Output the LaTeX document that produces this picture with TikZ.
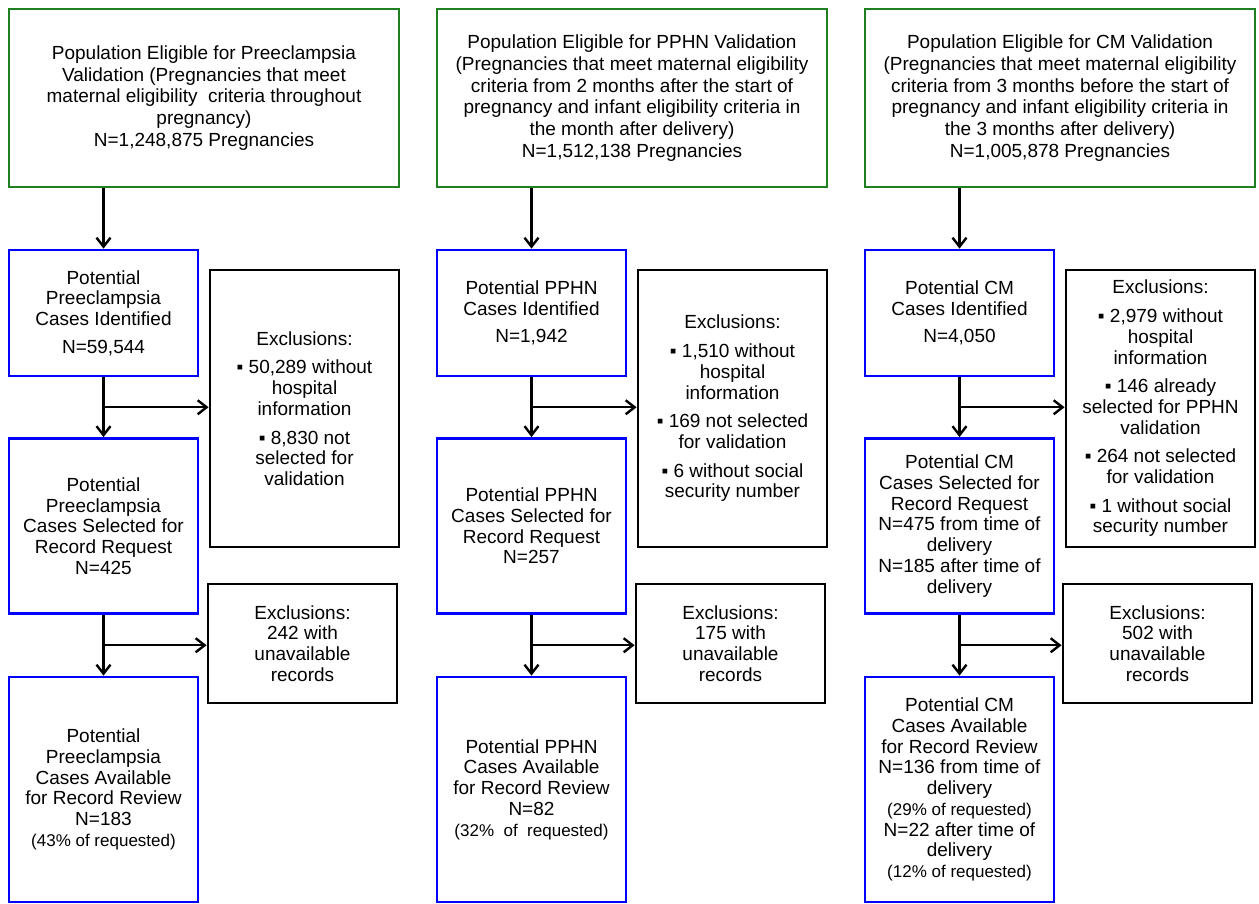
\documentclass[tikz,border=0pt]{standalone}
\usepackage{fontspec}
\setmainfont{Liberation Sans}
\usetikzlibrary{arrows.meta,calc}
\definecolor{popgreen}{RGB}{30,128,30}
\definecolor{caseblue}{RGB}{0,0,255}
\newcommand\smalltxt[1]{{\fontsize{17}{21}\selectfont #1}}

\begin{document}
\begin{tikzpicture}[x=1pt, y=-1pt,
		box/.style={draw, line width=2.8pt, align=center, inner sep=0pt, font=\fontsize{19}{20.7}\selectfont},
		popbox/.style={box, draw=popgreen, minimum width=390pt, minimum height=178pt, font=\fontsize{19}{21.7}\selectfont},
		casebox/.style={box, draw=caseblue, minimum width=189pt},
		exclbox/.style={box, draw=black, minimum width=189pt},
		flow/.style={-{Straight Barb[length=9pt,width=14pt]}, line width=2.4pt}]
	\useasboundingbox (0,0) rectangle (1259,903);

	\node[popbox] (pop1) at (204,98)
	{Population Eligible for Preeclampsia\\ Validation (Pregnancies that meet\\ maternal eligibility\ \ criteria throughout\\ pregnancy)\\ N=1,248,875 Pregnancies};
	\node[popbox] (pop2) at (632,98)
	{Population Eligible for PPHN Validation\\ (Pregnancies that meet maternal eligibility\\ criteria from 2 months after the start of\\ pregnancy and infant eligibility criteria in\\ the month after delivery)\\ N=1,512,138 Pregnancies};
	\node[popbox] (pop3) at (1060,98)
	{Population Eligible for CM Validation\\ (Pregnancies that meet maternal eligibility\\ criteria from 3 months before the start of\\ pregnancy and infant eligibility criteria in\\ the 3 months after delivery)\\ N=1,005,878 Pregnancies};

	\node[casebox, minimum height=126pt] (cand1) at (103.5,313)
	{Potential\\ Preeclampsia\\ Cases Identified\\[7pt] N=59,544};
	\node[casebox, minimum height=126pt] (cand2) at (531.5,313)
	{Potential PPHN\\ Cases Identified\\[7pt] N=1,942};
	\node[casebox, minimum height=126pt] (cand3) at (959.5,313)
	{Potential CM\\ Cases Identified\\[7pt] N=4,050};

	\node[exclbox, minimum height=277pt] (excl1) at (304.5,408.5)
	{Exclusions:\\[8pt] ▪ 50,289 without\\ hospital\\ information\\[8pt] ▪ 8,830 not\\ selected for\\ validation};
	\node[exclbox, minimum height=277pt] (excl2) at (732.5,408.5)
	{Exclusions:\\[8pt] ▪ 1,510 without\\ hospital\\ information\\[8pt] ▪ 169 not selected\\ for validation\\[8pt] ▪ 6 without social\\ security number};
	\node[exclbox, minimum height=277pt] (excl3) at (1160.5,408.5)
	{Exclusions:\\[8pt] ▪ 2,979 without\\ hospital\\ information\\[8pt] ▪ 146 already\\ selected for PPHN\\ validation\\[8pt] ▪ 264 not selected\\ for validation\\[8pt] ▪ 1 without social\\ security number};

	\node[casebox, minimum height=175pt] (req1) at (103.5,526)
	{Potential\\ Preeclampsia\\ Cases Selected for\\ Record Request\\ N=425};
	\node[casebox, minimum height=175pt] (req2) at (531.5,526)
	{Potential PPHN\\ Cases Selected for\\ Record Request\\ N=257};
	\node[casebox, minimum height=175pt] (req3) at (959.5,526)
	{Potential CM\\ Cases Selected for\\ Record Request\\ N=475 from time of\\ delivery\\ N=185 after time of\\ delivery};

	\node[exclbox, minimum height=119pt] (drop1) at (302.5,643.5)
	{Exclusions:\\ 242 with\\ unavailable\\ records};
	\node[exclbox, minimum height=119pt] (drop2) at (730.5,643.5)
	{Exclusions:\\ 175 with\\ unavailable\\ records};
	\node[exclbox, minimum height=119pt] (drop3) at (1157.5,643.5)
	{Exclusions:\\ 502 with\\ unavailable\\ records};

	\node[casebox, minimum height=225pt] (rev1) at (103.5,789.5)
	{Potential\\ Preeclampsia\\ Cases Available\\ for Record Review\\ N=183\\ \smalltxt{(43\% of requested)}};
	\node[casebox, minimum height=225pt] (rev2) at (531.5,789.5)
	{Potential PPHN\\ Cases Available\\ for Record Review\\ N=82\\ \smalltxt{(32\%\ \ of\ \ requested)}};
	\node[casebox, minimum height=225pt] (rev3) at (959.5,789.5)
	{Potential CM\\ Cases Available\\ for Record Review\\ N=136 from time of\\ delivery\\ \smalltxt{(29\% of requested)}\\ N=22 after time of\\ delivery\\ \smalltxt{(12\% of requested)}};

	\foreach \c in {1,2,3}
		{
			\draw[flow] (pop\c.south -| cand\c.north) -- (cand\c.north);
			\draw[flow] (cand\c.south) -- (req\c.north);
			\draw[flow] (req\c.south) -- (rev\c.north);
			\coordinate (split\c) at ($(cand\c.south)!.5!(req\c.north)$);
			\coordinate (cut\c) at ($(req\c.south)!.5!(rev\c.north)$);
			\draw[flow] (split\c) -- (split\c -| excl\c.west);
			\draw[flow] (cut\c) -- (cut\c -| drop\c.west);
		}
\end{tikzpicture}
\end{document}
